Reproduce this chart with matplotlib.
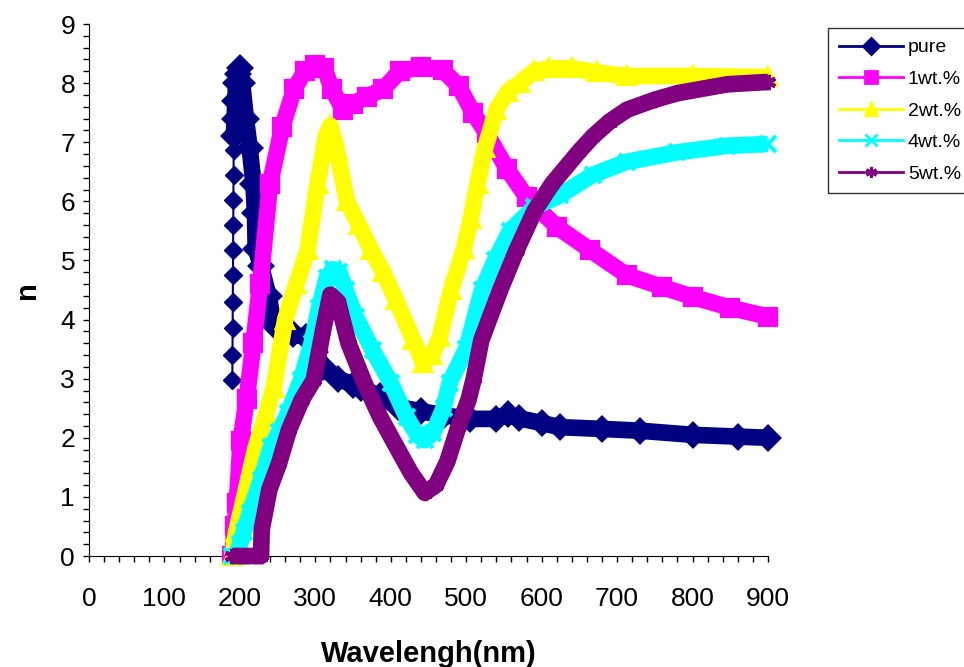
import matplotlib.pyplot as plt
from matplotlib.lines import Line2D
from matplotlib.ticker import MultipleLocator

plt.rcParams['font.family'] = ['Liberation Sans', 'DejaVu Sans']

# values (wavelength in nm, refractive index n)
pure_wl = [190, 190.2, 190.4, 190.6, 190.8, 191, 191.2, 191.4, 191.6, 191.8,
           192, 193, 194, 195, 197, 200, 203, 208, 213, 218,
           220, 221, 228, 238, 245, 255, 270, 288, 300, 310,
           330, 350, 360, 386, 410, 440, 470, 505, 540, 555,
           570, 600, 624, 680, 730, 800, 860, 900]
pure_n = [2.98, 3.4, 3.86, 4.3, 4.75, 5.18, 5.6, 6.02, 6.45, 6.87,
          7.1, 7.4, 7.7, 8.0, 8.15, 8.25, 8.0, 7.4, 6.9, 6.3,
          5.8, 5.2, 4.9, 4.4, 3.9, 3.8, 3.75, 3.7, 3.45, 3.2,
          3.0, 2.9, 2.85, 2.7, 2.52, 2.45, 2.38, 2.32, 2.32, 2.4,
          2.33, 2.25, 2.18, 2.15, 2.12, 2.05, 2.02, 2.0]

wt1_wl = [190, 193, 196, 201, 209, 218, 227, 240, 256, 272, 286, 300, 312, 322,
          337, 350, 368, 390, 412, 440, 469, 490, 509, 527, 554, 580, 620, 664,
          713, 760, 801, 850, 900]
wt1_n = [0, 0.5, 0.9, 1.95, 2.65, 3.6, 4.6, 6.3, 7.25, 7.9, 8.2, 8.3, 8.25, 7.9,
         7.55, 7.65, 7.77, 7.9, 8.2, 8.27, 8.22, 7.95, 7.5, 7.15, 6.55, 6.07, 5.57, 5.18,
         4.75, 4.55, 4.38, 4.2, 4.05]

wt2_wl = [190, 195, 208, 221, 235, 245, 260, 275, 290, 303, 314, 320, 328, 342,
          358, 374, 390, 407, 430, 443, 455, 465, 480, 497, 506, 515, 525, 540,
          555, 571, 590, 610, 640, 673, 713, 800, 900]
wt2_n = [0, 0.4, 1.12, 1.84, 2.42, 2.85, 4.0, 4.6, 5.18, 6.3, 7.1, 7.28, 6.9, 6.0,
         5.6, 5.18, 4.8, 4.33, 3.65, 3.27, 3.4, 3.7, 4.5, 5.2, 5.7, 6.3, 6.9, 7.55,
         7.85, 8.0, 8.2, 8.25, 8.25, 8.18, 8.12, 8.12, 8.1]

wt4_wl = [190, 196, 200, 205, 213, 228, 241, 252, 264, 281, 295, 305, 315, 323,
          332, 340, 354, 376, 400, 421, 435, 445, 456, 470, 478, 500, 521, 538,
          558, 590, 624, 668, 713, 780, 846, 900]
wt4_n = [0, 0, 0.2, 0.4, 0.73, 1.29, 1.84, 2.1, 2.42, 2.98, 3.6, 4.2, 4.7, 4.85,
         4.8, 4.5, 4.04, 3.48, 2.93, 2.35, 2.05, 1.96, 2.08, 2.5, 2.93, 3.5, 4.5, 5.0,
         5.5, 5.9, 6.1, 6.45, 6.67, 6.83, 6.94, 6.97]

wt5_wl = [190, 200, 210, 220, 228, 229, 239, 252, 265, 282, 298, 310, 320, 330,
          344, 365, 386, 410, 427, 445, 460, 475, 490, 503, 510, 520, 545, 567,
          591, 614, 650, 668, 690, 713, 750, 780, 846, 900]
wt5_n = [0, 0, 0, 0, 0, 0.45, 1.12, 1.57, 2.13, 2.64, 2.98, 3.8, 4.42, 4.3,
         3.6, 2.93, 2.35, 1.79, 1.4, 1.07, 1.2, 1.6, 2.2, 2.64, 3.0, 3.65, 4.5, 5.18,
         5.85, 6.3, 6.85, 7.1, 7.35, 7.55, 7.72, 7.83, 7.98, 8.02]

labels = ['pure', '1wt.%', '2wt.%', '4wt.%', '5wt.%']
colors = ['#000080', '#FF00FF', '#FFFF00', '#00FFFF', '#800080']
markers = ['D', 's', '^', 'x', (6, 2, 0)]

fig = plt.figure(figsize=(9.64, 6.67), dpi=100)
ax = fig.add_axes([0.0923, 0.1664, 0.7044, 0.7976])

series = [(pure_wl, pure_n), (wt1_wl, wt1_n), (wt2_wl, wt2_n),
          (wt4_wl, wt4_n), (wt5_wl, wt5_n)]

# the first readings of "pure" are separate diamonds on a thin line
ax.plot(pure_wl[:11], pure_n[:11], color=colors[0], lw=1.5, marker='D', ms=9,
        clip_on=False, zorder=2)

for i, (wl, n) in enumerate(series):
    if i == 0:
        wl, n = wl[10:], n[10:]
    # dense markers in the original form a thick band
    ax.plot(wl, n, color=colors[i], lw=12, solid_joinstyle='round',
            solid_capstyle='butt', marker=markers[i], ms=11, mew=3,
            mec=colors[i], mfc=colors[i], clip_on=False, zorder=2 + i)

ax.set_xlim(0, 900)
ax.set_ylim(0, 9)
ax.xaxis.set_major_locator(MultipleLocator(100))
ax.xaxis.set_minor_locator(MultipleLocator(20))
ax.yaxis.set_major_locator(MultipleLocator(1))
ax.yaxis.set_minor_locator(MultipleLocator(0.2))
ax.tick_params(which='both', direction='out', length=4, width=1, color='black')
ax.tick_params(axis='x', labelsize=19, pad=18)
ax.tick_params(axis='y', labelsize=19, pad=6)
ax.spines['top'].set_visible(False)
ax.spines['right'].set_visible(False)

ax.set_xlabel('Wavelengh(nm)', fontsize=21, fontweight='bold', labelpad=21)
ax.set_ylabel('n', fontsize=21, fontweight='bold', labelpad=14)

handles = [Line2D([], [], color=colors[i], lw=2, marker=markers[i], ms=8,
                  mew=2, mec=colors[i], mfc=colors[i]) for i in range(5)]
leg = fig.legend(handles, labels, loc='upper left', bbox_to_anchor=(0.859, 0.958),
                 fontsize=14, frameon=True, fancybox=False, handlelength=3.3,
                 handletextpad=0.25, labelspacing=0.72, borderpad=0.55,
                 borderaxespad=0)
leg.get_frame().set_edgecolor('black')
leg.get_frame().set_linewidth(1)

fig.savefig('out.png', dpi=100)
